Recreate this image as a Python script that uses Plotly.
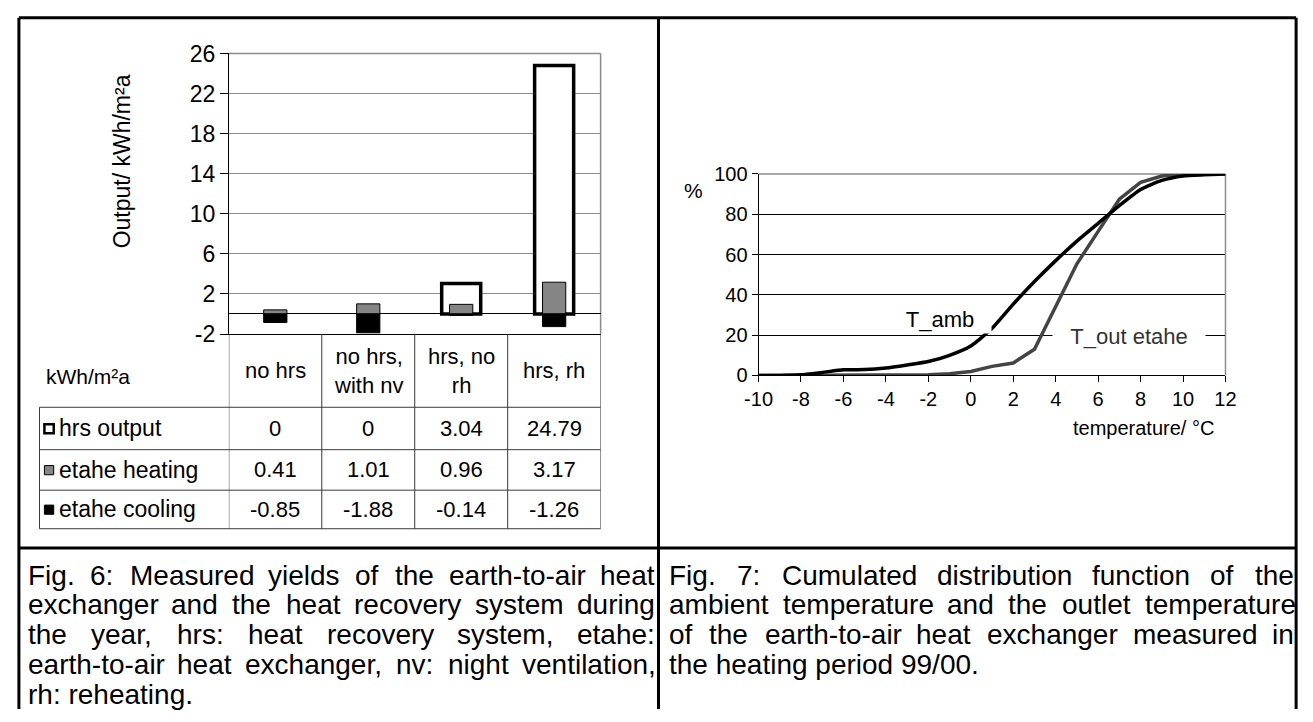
import plotly.graph_objects as go

W, H = 1313, 722

# ---------------- data ----------------
categories = ["no hrs", "no hrs,<br>with nv", "hrs, no<br>rh", "hrs, rh"]
hrs_output = [0, 0, 3.04, 24.79]
etahe_heating = [0.41, 1.01, 0.96, 3.17]
etahe_cooling = [-0.85, -1.88, -0.14, -1.26]
series_names = ["hrs output", "etahe heating", "etahe cooling"]
table_unit = "kWh/m²a"
y1_ticks = [-2, 2, 6, 10, 14, 18, 22, 26]

temperature = [-10, -9, -8, -7, -6, -5, -4, -3, -2, -1, 0, 1, 2, 3, 4, 5, 6, 7, 8, 9, 10, 11, 12]
t_amb = [0, 0, 0.3, 1.5, 2.8, 2.9, 3.7, 5.2, 6.9, 10, 14.6, 23.4, 35.4, 46.6, 57, 66.7, 75.5, 84.3, 92.3, 96.8, 99, 99.6, 100]
t_out = [0, 0, 0, 0, 0, 0, 0, 0, 0.3, 0.8, 2, 4.5, 6.2, 13, 33.8, 55.4, 71.5, 87.5, 95.8, 99, 100, 100, 100]
y2_ticks = [0, 20, 40, 60, 80, 100]
x2_ticks = [-10, -8, -6, -4, -2, 0, 2, 4, 6, 8, 10, 12]

caption6 = ["Fig. 6: Measured yields of the earth-to-air heat",
            "exchanger and the heat recovery system during",
            "the year, hrs: heat recovery system, etahe:",
            "earth-to-air heat exchanger, nv: night ventilation,",
            "rh: reheating."]
caption7 = ["Fig. 7: Cumulated distribution function of the",
            "ambient temperature and the outlet temperature",
            "of the earth-to-air heat exchanger measured in",
            "the heating period 99/00."]

FONT = "Liberation Sans, Arial, sans-serif"


def px(x):
    return x / W


def py(y):
    return 1 - y / H


def lbl(v):
    return f"{v:g}"


# Arial / Liberation Sans advance widths (1/1000 em)
AW = {' ': 278, ',': 278, '-': 333, '.': 278, '/': 278, ':': 278, '_': 556,
      'F': 611, 'M': 833, 'C': 722, 'T': 611}
for c in '0123456789':
    AW[c] = 556
AW.update(dict(a=556, b=556, c=500, d=556, e=556, f=278, g=556, h=556, i=222, j=222,
               k=500, l=222, m=833, n=556, o=556, p=556, q=556, r=333, s=500, t=278,
               u=556, v=500, w=722, x=500, y=500, z=500))


def tw(s, size):
    return sum(AW.get(ch, 556) for ch in s) * size / 1000.0


fig = go.Figure()

# ---------------- left chart (bars) ----------------
fig.add_trace(go.Bar(x=categories, y=[v if v != 0 else None for v in hrs_output],
                     width=0.42, name=series_names[0],
                     marker=dict(color="white", line=dict(color="black", width=3.5)),
                     xaxis="x", yaxis="y"))
fig.add_trace(go.Bar(x=categories, y=etahe_heating, width=0.25, name=series_names[1],
                     marker=dict(color="#858585", line=dict(color="black", width=1)),
                     xaxis="x", yaxis="y"))
fig.add_trace(go.Bar(x=categories, y=etahe_cooling, width=0.25, name=series_names[2],
                     marker=dict(color="black", line=dict(color="black", width=1)),
                     xaxis="x", yaxis="y"))

# ---------------- right chart (lines) ----------------
fig.add_trace(go.Scatter(x=temperature, y=t_out, mode="lines", name="T_out etahe",
                         line=dict(color="#444444", width=3.5), xaxis="x2", yaxis="y2"))
fig.add_trace(go.Scatter(x=temperature, y=t_amb, mode="lines", name="T_amb",
                         line=dict(color="black", width=3.5, shape="spline", smoothing=0.6),
                         xaxis="x2", yaxis="y2"))

L_X0, L_X1, L_Y0, L_Y1 = 219, 598, 42, 333
R_X0, R_X1, R_Y0, R_Y1 = 759, 1235, 167, 376

fig.update_layout(
    width=W, height=H, margin=dict(l=0, r=0, t=0, b=0),
    paper_bgcolor="white", plot_bgcolor="white", showlegend=False,
    barmode="overlay", font=dict(family=FONT, color="black"),
    xaxis=dict(domain=[px(L_X0), px(L_X1)], anchor="y", type="category",
               range=[-0.5, 3.5], showticklabels=False, ticks="",
               showline=True, linecolor="black", linewidth=1, showgrid=False, fixedrange=True),
    yaxis=dict(domain=[py(L_Y1), py(L_Y0)], anchor="x", range=[-2, 26],
               tickvals=y1_ticks, ticktext=[lbl(v) for v in y1_ticks],
               ticks="outside", ticklen=8, tickcolor="black",
               showline=True, linecolor="black", linewidth=1,
               showgrid=True, gridcolor="#8c8c8c", gridwidth=1,
               zeroline=True, zerolinecolor="black", zerolinewidth=1,
               tickfont=dict(size=23, family=FONT), fixedrange=True),
    xaxis2=dict(domain=[px(R_X0), px(R_X1)], anchor="y2", range=[-10, 12],
                tickvals=x2_ticks, ticktext=[lbl(v) for v in x2_ticks],
                ticks="outside", ticklen=6, tickcolor="black",
                showline=True, linecolor="black", linewidth=1, showgrid=False, zeroline=False,
                tickfont=dict(size=20, family=FONT), fixedrange=True),
    yaxis2=dict(domain=[py(R_Y1), py(R_Y0)], anchor="x2", range=[0, 100],
                tickvals=y2_ticks, ticktext=[lbl(v) for v in y2_ticks],
                ticks="outside", ticklen=6, tickcolor="black",
                showline=True, linecolor="black", linewidth=1,
                showgrid=True, gridcolor="black", gridwidth=1, zeroline=False,
                tickfont=dict(size=20, family=FONT), fixedrange=True),
)

shapes = []
ann = []


def line(x0, y0, x1, y1, color="black", width=1, layer="above"):
    shapes.append(dict(type="line", xref="paper", yref="paper",
                       x0=px(x0), y0=py(y0), x1=px(x1), y1=py(y1),
                       line=dict(color=color, width=width), layer=layer))


def text(x, y, s, size, xanchor="center", yanchor="middle", **kw):
    d = dict(x=px(x), y=py(y), xref="paper", yref="paper", text=s, showarrow=False,
             xanchor=xanchor, yanchor=yanchor, font=dict(size=size, family=FONT,
                                                         color=kw.pop("color", "black")))
    d.update(kw)
    ann.append(d)


# plot area frames (grey top/right)
line(L_X0, L_Y0, L_X1, L_Y0, "#8c8c8c", 1.5, "between")
line(L_X1, L_Y0, L_X1, L_Y1, "#8c8c8c", 1.5, "between")
line(R_X0, R_Y0, R_X1, R_Y0, "#8c8c8c", 1.5, "between")
line(R_X1, R_Y0, R_X1, R_Y1, "#8c8c8c", 1.5, "between")

# ---------------- data table under left chart ----------------
T_TOP, T_HDR, T_BOT = L_Y1, 409, 535
row_edges = [409, 453, 495, 535]
T_LEFT = 26
TC = "#3a3a3a"
for k in range(len(categories) + 1):
    shapes.append(dict(type="line", xref="x", yref="paper", x0=k - 0.5, x1=k - 0.5,
                       y0=py(T_TOP), y1=py(T_BOT), line=dict(color=TC, width=1)))
line(T_LEFT, T_HDR, T_LEFT, T_BOT, TC, 1)
for ry in row_edges:
    line(T_LEFT, ry, L_X1, ry, TC, 1)

TFS = 22
text(31, 377, table_unit, 21, xanchor="left")
for i, c in enumerate(categories):
    ann.append(dict(x=i, y=py((T_TOP + T_HDR) / 2), xref="x", yref="paper", text=c,
                    showarrow=False, xanchor="center", yanchor="middle",
                    font=dict(size=TFS, family=FONT, color="black")))

table_rows = [hrs_output, etahe_heating, etahe_cooling]
sym_style = [("white", "black", 2.5), ("#858585", "black", 1), ("black", "black", 1)]
for r, (vals, name) in enumerate(zip(table_rows, series_names)):
    yc = (row_edges[r] + row_edges[r + 1]) / 2
    fc, lc, lw = sym_style[r]
    shapes.append(dict(type="rect", xref="paper", yref="paper",
                       x0=px(31), x1=px(40.5), y0=py(yc - 4.5), y1=py(yc + 5),
                       fillcolor=fc, line=dict(color=lc, width=lw)))
    text(44, yc, name, 23, xanchor="left")
    for i, v in enumerate(vals):
        ann.append(dict(x=i, y=py(yc), xref="x", yref="paper", text=lbl(v),
                        showarrow=False, xanchor="center", yanchor="middle",
                        font=dict(size=TFS, family=FONT, color="black")))

# left axis title
text(111, 154, "Output/ kWh/m²a", 23, textangle=-90)

# right chart texts
text(693, 184, "%", 21)
text(1151, 431, "temperature/ °C", 20)
text(944, 317, "T_amb", 22, bgcolor="white", width=100, height=26)
text(1137, 335, "T_out etahe", 22, color="#333333", bgcolor="white", width=150, height=26)

# ---------------- outer frame ----------------
FR = 3
line(5, 5, 1307, 5, "black", FR)
line(5, 5, 5, 722, "black", FR)
line(1307, 5, 1307, 722, "black", FR)
line(657, 5, 657, 722, "black", FR)
line(5, 555, 1307, 555, "black", FR)

# ---------------- captions (justified) ----------------
CFS = 28
LINE_H = 31


def caption(lines, x0, x1, y_first):
    for k, ln in enumerate(lines):
        yc = y_first + k * LINE_H
        words = ln.split(" ")
        if k == len(lines) - 1 or len(words) == 1:
            text(x0, yc, ln, CFS, xanchor="left")
            continue
        widths = [tw(w_, CFS) for w_ in words]
        gap = (x1 - x0 - sum(widths)) / (len(words) - 1)
        xc = x0
        for w_, wd in zip(words, widths):
            text(xc, yc, w_, CFS, xanchor="left")
            xc += wd + gap


caption(caption6, 12, 650, 583)
caption(caption7, 666, 1302, 583)

fig.update_layout(shapes=shapes, annotations=ann)
fig.write_html("out.html")
